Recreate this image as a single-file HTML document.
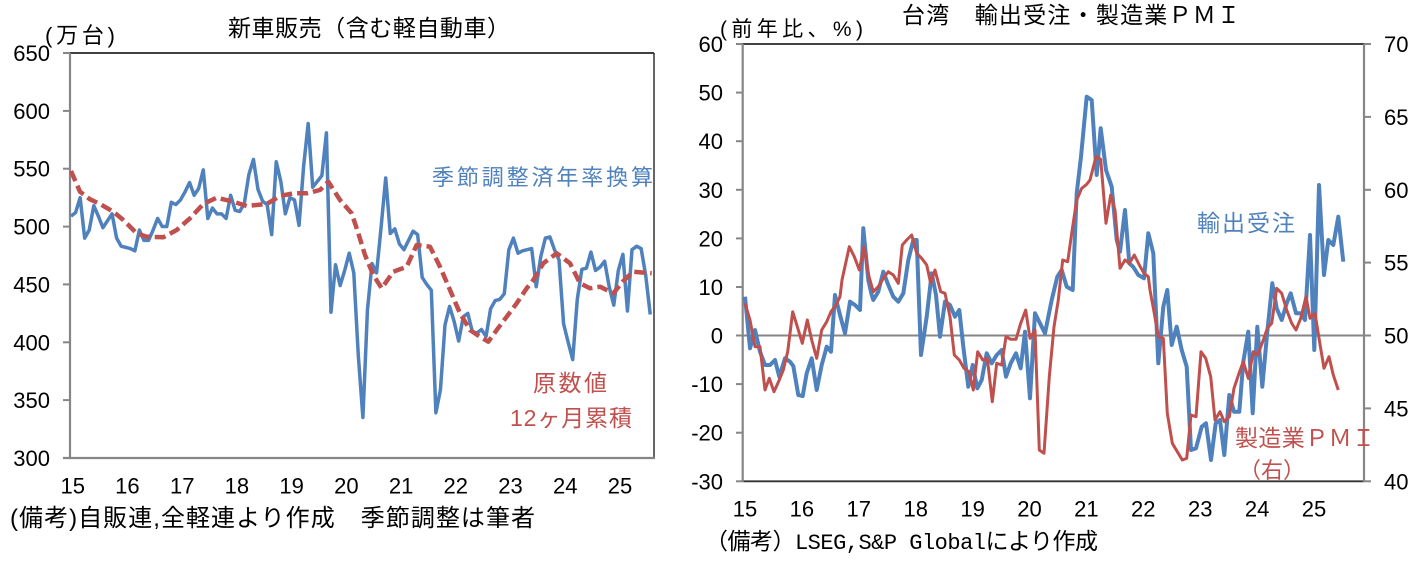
<!DOCTYPE html>
<html><head><meta charset="utf-8"><style>
html,body{margin:0;padding:0;background:#fff;}
svg{display:block;}
.t{font-family:"Liberation Sans","Noto Sans CJK JP",sans-serif;fill:#000;}
.j{font-family:"Liberation Sans","Noto Sans CJK JP",sans-serif;}
</style></head><body>
<svg width="1421" height="567" viewBox="0 0 1421 567" xmlns="http://www.w3.org/2000/svg">
<rect width="1421" height="567" fill="#fff"/>

<!-- ============ LEFT CHART ============ -->
<text class="j" x="228" y="36" font-size="23" textLength="282" fill="#000">新車販売（含む軽自動車）</text>
<text class="j" x="45" y="43" font-size="22" textLength="70" fill="#000">(万台)</text>

<!-- frame -->
<line x1="70" y1="53" x2="654" y2="53" stroke="#000" stroke-width="1.5"/>
<line x1="654" y1="53" x2="654" y2="459" stroke="#333" stroke-width="1.5"/>
<line x1="70" y1="53" x2="70" y2="459" stroke="#868686" stroke-width="2.2"/>
<line x1="63" y1="458" x2="655" y2="458" stroke="#868686" stroke-width="2.2"/>
<g stroke="#868686" stroke-width="2">
<line x1="63" y1="53" x2="70" y2="53"/><line x1="63" y1="110.9" x2="70" y2="110.9"/>
<line x1="63" y1="168.7" x2="70" y2="168.7"/><line x1="63" y1="226.6" x2="70" y2="226.6"/>
<line x1="63" y1="284.4" x2="70" y2="284.4"/><line x1="63" y1="342.3" x2="70" y2="342.3"/>
<line x1="63" y1="400.1" x2="70" y2="400.1"/>
</g>
<g class="t" font-size="22" text-anchor="end">
<text x="50" y="61">650</text><text x="50" y="118.9">600</text><text x="50" y="176.7">550</text>
<text x="50" y="234.6">500</text><text x="50" y="292.4">450</text><text x="50" y="350.3">400</text>
<text x="50" y="408.1">350</text><text x="50" y="466">300</text>
</g>
<g class="t" font-size="22" text-anchor="middle">
<text x="72.7" y="493.5">15</text><text x="127.4" y="493.5">16</text><text x="182.2" y="493.5">17</text>
<text x="236.9" y="493.5">18</text><text x="291.6" y="493.5">19</text><text x="346.4" y="493.5">20</text>
<text x="401.1" y="493.5">21</text><text x="455.8" y="493.5">22</text><text x="510.5" y="493.5">23</text>
<text x="565.3" y="493.5">24</text><text x="620" y="493.5">25</text>
</g>

<!-- blue SA series -->
<polyline transform="matrix(4.561,0,0,-1.1571,71,805.1)" vector-effect="non-scaling-stroke" fill="none" stroke="#4F81BD" stroke-width="3.5" stroke-linejoin="round"
points="0,509 1,512 2,525 3,490 4,497 5,518 6,509 7,499 8,505 9,511 10,490 11,483 12,482 13,481 14,479 15,497 16,488 17,488 18,497 19,507 20,500 21,500 22,521 23,519 24,523 25,530 26,538 27,527 28,533 29,549 30,507 31,516 32,511 33,511 34,507 35,527 36,514 37,513 38,520 39,545 40,558 41,532 42,522 43,519 44,493 45,556 46,539 47,511 48,525 49,523 50,501 51,552 52,589 53,534 54,539 55,544 56,581 57,426 58,467 59,449 60,462 61,477 62,460 63,388 64,335 65,428 66,468 67,460 68,500 69,542 70,494 71,498 72,485 73,480 74,488 75,496 76,493 77,456 78,450 79,445 80,339 81,359 82,415 83,431 84,418 85,401 86,422 87,425 88,409 89,408 90,411 91,405 92,429 93,436 94,437 95,442 96,480 97,490 98,477 99,479 100,480 101,481 102,448 103,474 104,490 105,491 106,480 107,471 108,416 109,400 110,385 111,437 112,463 113,464 114,478 115,462 116,465 117,470 118,448 119,432 120,462 121,476 122,427 123,480 124,483 125,481 126,458 127,424"/>

<!-- red dashed 12m cumulative -->
<polyline fill="none" stroke="#C0504D" stroke-width="4.5" stroke-dasharray="11 5" stroke-linejoin="round"
points="71,171 80,191.7 90,199.3 100,204 113.3,211.7 123.3,220 136.7,233.3 146.7,236.7 163.3,237.3 176.7,230 190,218.3 203.3,204 216.7,197.7 233.3,201.7 246.7,206 266.7,204 280,196 293.3,193.3 306.7,193.3 320,190 328.3,181.7 340,200 351.7,213.3 358.3,233.3 365,255 373.3,275 381.7,288.3 393.3,271.7 406.7,266.7 416.7,245 430,246.7 440,266.7 450,290 460,313.3 470,330 480,336.7 488.3,341.7 496.7,330 506.7,316.7 516.7,303.3 526.7,288.3 533.3,280 543.3,263.3 556.7,253.3 570,263.3 580,283.3 590,288.3 600,286.7 613.3,293.3 623.3,281 633.3,271.7 651.7,273.3"/>

<text class="j" x="432" y="185" font-size="22" textLength="221" fill="#4F81BD">季節調整済年率換算</text>
<text class="j" x="533" y="391" font-size="23" textLength="74" fill="#C0504D">原数値</text>
<text class="j" x="510" y="426" font-size="23" textLength="122" fill="#C0504D">12ヶ月累積</text>

<text class="j" x="10" y="526" font-size="24" textLength="525" fill="#000">(備考)自販連,全軽連より作成　季節調整は筆者</text>

<!-- ============ RIGHT CHART ============ -->
<text class="j" x="902" y="23" font-size="23" textLength="338" fill="#000">台湾　輸出受注・製造業ＰＭＩ</text>
<text class="j" x="720" y="36" font-size="21" textLength="143" fill="#000">(前年比、%)</text>

<line x1="743" y1="44" x2="1364" y2="44" stroke="#000" stroke-width="1.5"/>
<line x1="743" y1="481.3" x2="1364" y2="481.3" stroke="#333" stroke-width="1.8"/>
<line x1="736" y1="335.5" x2="1371" y2="335.5" stroke="#868686" stroke-width="2"/>
<line x1="742.7" y1="44" x2="742.7" y2="482" stroke="#868686" stroke-width="2.2"/>
<line x1="1364" y1="44" x2="1364" y2="482" stroke="#868686" stroke-width="2.2"/>
<g stroke="#868686" stroke-width="2">
<line x1="736" y1="44" x2="743" y2="44"/><line x1="736" y1="92.6" x2="743" y2="92.6"/>
<line x1="736" y1="141.2" x2="743" y2="141.2"/><line x1="736" y1="189.8" x2="743" y2="189.8"/>
<line x1="736" y1="238.4" x2="743" y2="238.4"/><line x1="736" y1="287" x2="743" y2="287"/>
<line x1="736" y1="384.1" x2="743" y2="384.1"/><line x1="736" y1="432.7" x2="743" y2="432.7"/>
<line x1="736" y1="481.3" x2="743" y2="481.3"/>
<line x1="1364" y1="44" x2="1371" y2="44"/><line x1="1364" y1="116.9" x2="1371" y2="116.9"/>
<line x1="1364" y1="189.8" x2="1371" y2="189.8"/><line x1="1364" y1="262.6" x2="1371" y2="262.6"/>
<line x1="1364" y1="408.4" x2="1371" y2="408.4"/><line x1="1364" y1="481.3" x2="1371" y2="481.3"/>
</g>
<g class="t" font-size="22" text-anchor="end">
<text x="723" y="52">60</text><text x="723" y="100.6">50</text><text x="723" y="149.2">40</text>
<text x="723" y="197.8">30</text><text x="723" y="246.4">20</text><text x="723" y="295">10</text>
<text x="723" y="343.5">0</text><text x="723" y="392.1">-10</text><text x="723" y="440.7">-20</text>
<text x="723" y="489.3">-30</text>
</g>
<g class="t" font-size="22" text-anchor="start">
<text x="1384" y="52">70</text><text x="1384" y="124.9">65</text><text x="1384" y="197.8">60</text>
<text x="1384" y="270.6">55</text><text x="1384" y="343.5">50</text><text x="1384" y="416.4">45</text>
<text x="1384" y="489.3">40</text>
</g>
<g class="t" font-size="22" text-anchor="middle">
<text x="745" y="516.5">15</text><text x="801.9" y="516.5">16</text><text x="858.8" y="516.5">17</text>
<text x="915.7" y="516.5">18</text><text x="972.6" y="516.5">19</text><text x="1029.5" y="516.5">20</text>
<text x="1086.4" y="516.5">21</text><text x="1143.3" y="516.5">22</text><text x="1200.2" y="516.5">23</text>
<text x="1257.1" y="516.5">24</text><text x="1314" y="516.5">25</text>
</g>

<!-- blue export orders -->
<polyline fill="none" stroke="#4F81BD" stroke-width="4" stroke-linejoin="round"
points="745,296.7 750,348.3 755,330 760,351.7 765,365 770,365 775,360 779.3,376.7 785,358.3 790,361.7 793.3,366 798.3,395 802.7,396 806.7,373.3 811.7,358.3 816.7,390 821.7,365 826.7,346.7 831,351.7 835,295 840,315 845,333.3 850,301.7 855,305 860,310 863.3,228.3 868.3,280 871.7,295 873.3,300 878.3,291.7 883.3,271.7 888.3,285 893.3,296.7 898.3,301.7 903.3,293.3 908.3,260 913.3,240 916.7,240 921,355 926.7,316.7 931.7,273.3 936,295 940,336.7 945,301.7 950,305 955,316.7 959.3,310 963.3,346.7 968.3,386.7 972.7,365 977.3,388.3 981.7,380 986.7,353.3 991.7,363.3 996.7,355 1001.7,350 1006,376.7 1010.7,363.3 1016,353.3 1020.7,368.3 1025,331.7 1030,398.3 1035,313.3 1040,323.3 1045,333.3 1051.7,300 1057.3,276.7 1061.7,270 1066.7,286.7 1072.7,290 1076.7,193.3 1081,156.7 1086.7,96.7 1091.7,100 1096.7,175 1100.7,128.3 1106,170 1111.7,186.7 1116.7,240 1120,251.7 1125,210 1129.3,263.3 1133.3,267 1138.3,275 1144,278.3 1148.3,233.3 1153.3,253.3 1158.3,363.3 1163.3,306.7 1167.3,290 1171.7,345 1176.7,326.7 1181.7,350 1186.7,366.7 1191,450 1196,448.3 1201.7,426.7 1206,423.3 1211,460 1215.7,423.3 1220,420 1224.3,455 1229.3,395 1234,411.7 1239.3,411.7 1243.3,361.7 1248.3,331.7 1252.7,413.3 1257.3,326.7 1262.3,386.7 1267.3,331.7 1272.3,283.3 1276.7,308.3 1281.7,320 1286.7,303.3 1290.7,293.3 1296,313.3 1300.7,313.3 1305,320 1310,235 1314.3,350 1319,185 1324,275 1328.3,240 1333.3,245 1338.3,216.7 1343.3,261.7"/>

<!-- red PMI -->
<polyline fill="none" stroke="#C0504D" stroke-width="3" stroke-linejoin="round"
points="745,303.3 750,320 755,346.7 760,346.7 765,390 769.3,378.3 774,391.7 779.3,380 783.3,370 787.7,351.7 792.7,311.7 797.3,326.7 802.3,343.3 807.3,320 811.7,340 816.7,358.3 821.7,330 826.7,321.7 831,311.7 836,305 840,296.7 842,280 849.3,246.7 854.3,256.7 859.3,270 864,246.7 869,276.7 873.3,291.7 878.3,286.7 883.3,278.3 888.3,271.7 893.3,275 898.3,283.3 902.3,245 906.7,240 911.7,235 916.7,253.3 921.7,258.3 926.7,265 930.7,283.3 935,270 940.7,291.7 945,293.3 950,316.7 954.3,355 959.3,360 964,368.3 969,371.7 973.3,390 977.7,351.7 982.7,360 987.3,358.3 992.3,401.7 996.7,363.3 1001.7,365 1006,336.7 1010.7,339.3 1016,339.3 1020.7,323.3 1025.7,310 1030,338.3 1035,330 1039.3,450 1044,453.3 1049.3,376.7 1054,326.7 1058.3,300 1062.7,260 1067.7,261.7 1071.7,233.3 1076.7,200 1081.7,188.3 1086.7,184.3 1090,180 1096,156.7 1100.7,159.3 1106,223.3 1110.7,195 1115,210 1120,268.3 1125,260 1129.3,263.3 1134.3,255 1139.3,265 1144,273.3 1148.3,276.7 1150,290 1154.3,313.3 1158.3,336.7 1163.3,338.3 1167.3,413.3 1172.3,443.3 1177.3,451.7 1182.3,460 1186.7,458.3 1191,415 1196,416.7 1201,351.7 1205.7,358.3 1210.7,376.7 1215,420 1220,411.7 1224.3,421.7 1229.3,416.7 1234,388.3 1239,373.3 1243.3,361.7 1248.3,378.3 1253.3,351.7 1257.7,355 1262.7,341.7 1267.3,328.3 1271.7,323.3 1276.7,288.3 1281.7,293.3 1286.7,310 1291.7,323.3 1296,330 1300.7,318.3 1306,296.7 1310,318.3 1315,313.3 1319.3,340 1324,368.3 1329,356.7 1333.3,375 1338.3,390"/>

<text class="j" x="1197" y="231" font-size="23" textLength="98" fill="#4F81BD">輸出受注</text>
<text class="j" x="1235" y="446" font-size="23" textLength="140" fill="#C0504D">製造業ＰＭＩ</text>
<text class="j" x="1272" y="478" font-size="22" text-anchor="middle" fill="#C0504D">（右）</text>

<text class="j" x="705" y="549" font-size="23" textLength="393" fill="#000">（備考）<tspan font-family="'Liberation Mono',monospace" font-size="22">LSEG,S&amp;P Global</tspan>により作成</text>
</svg>
</body></html>
